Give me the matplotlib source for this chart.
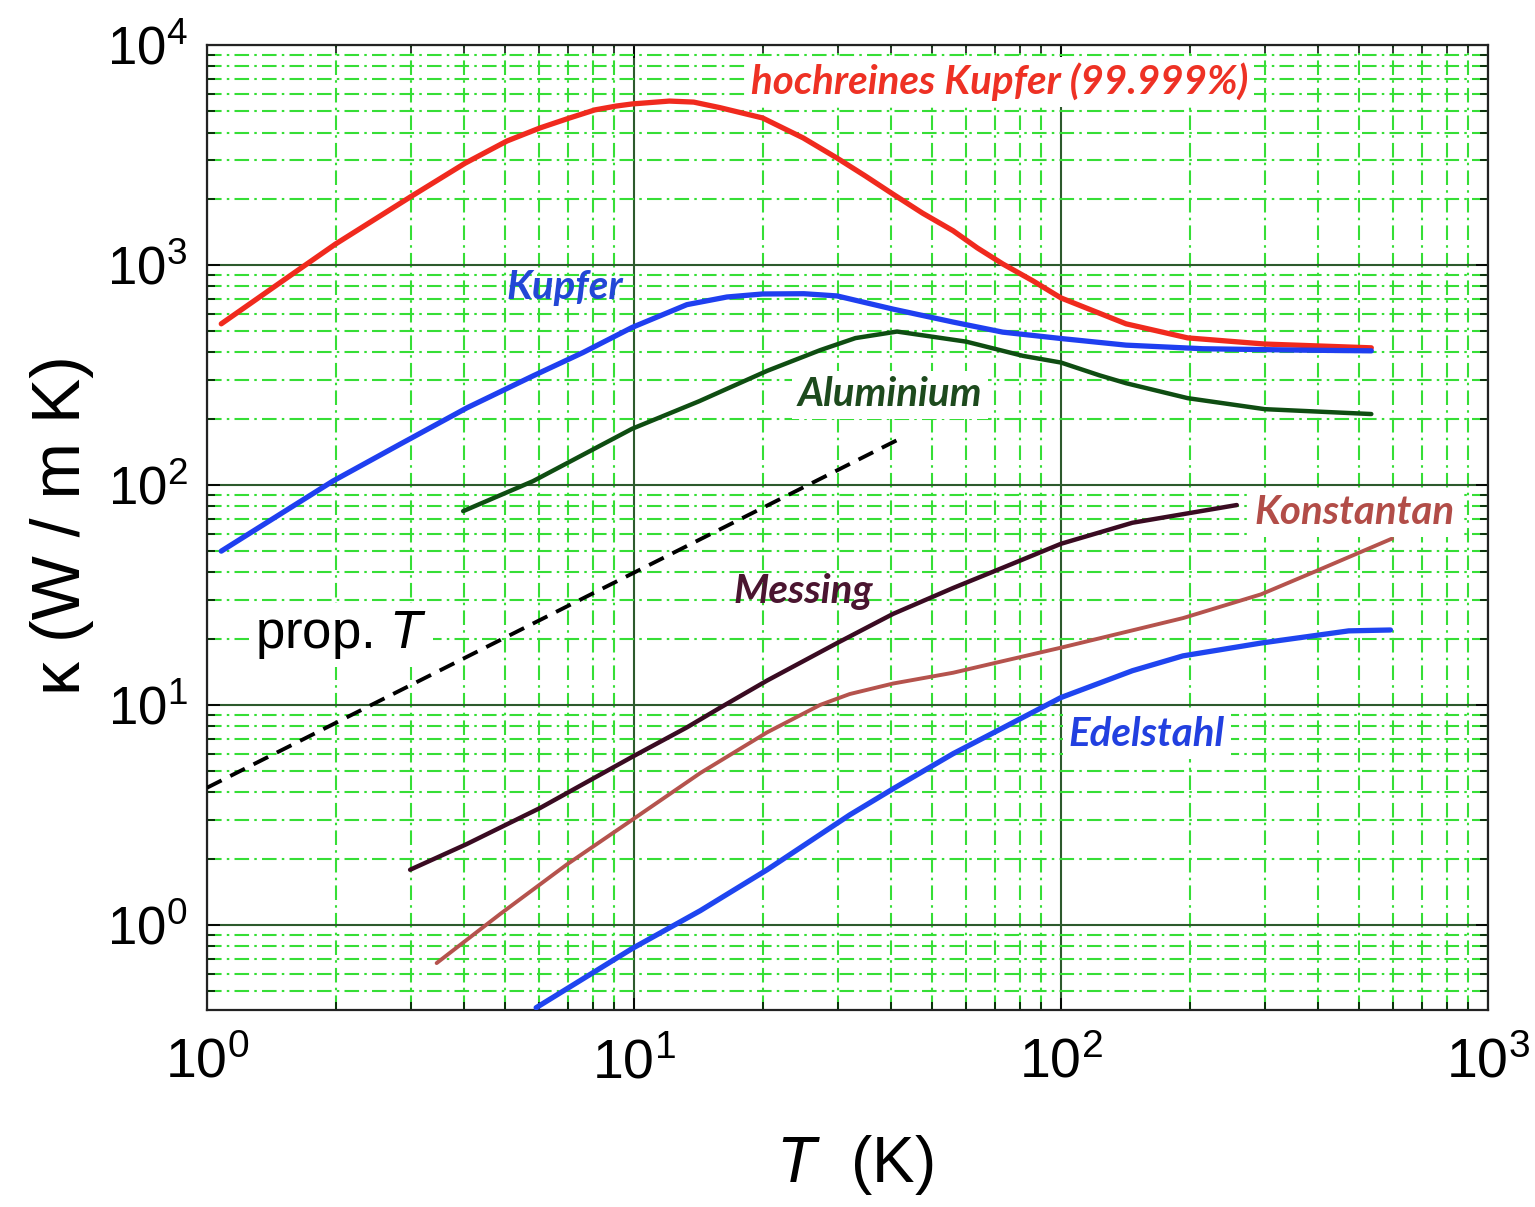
import matplotlib
matplotlib.use('Agg')
import matplotlib.pyplot as plt
from matplotlib.ticker import LogLocator, FixedLocator, FixedFormatter, NullFormatter

# ---------------- data ----------------
T_hr = [1.08, 1.65, 2.0, 3.02, 4.02, 5.04, 6.03, 7.07, 8.1, 9.1, 9.9, 12.1, 13.8, 15.9, 20.0, 24.9,
        29.9, 34.8, 40.4, 47.4, 55.9, 63.7, 73.1, 86.1, 100, 142, 198, 300, 533]
k_hr = [540, 960, 1245, 2060, 2900, 3660, 4200, 4660, 5070, 5280, 5395, 5560, 5500, 5190, 4660, 3780,
        3060, 2540, 2100, 1720, 1430, 1195, 1010, 845, 708, 540, 466, 437, 420]

T_cu = [1.08, 1.97, 2.83, 4.06, 5.8, 7.6, 9.9, 13.3, 16.5, 20.0, 25.0, 29.9, 40.4, 55.9, 73, 100, 142, 215, 362, 533]
k_cu = [50, 104, 153, 224, 313, 400, 520, 660, 715, 738, 740, 723, 630, 550, 495, 463, 432, 416, 410, 407]

T_al = [3.98, 5.8, 9.9, 14.2, 20.5, 27.3, 33.0, 41.3, 60, 81.5, 100, 123, 142, 198, 300, 533]
k_al = [76, 104, 180, 240, 330, 410, 465, 498, 448, 386, 360, 315, 290, 248, 221, 210]

T_ms = [2.99, 4.06, 6.03, 9.9, 13.3, 15.9, 20.5, 29.9, 40.4, 55.9, 73, 100, 147, 258]
k_ms = [1.78, 2.33, 3.4, 5.8, 7.9, 9.7, 12.9, 19.1, 25.9, 34, 42, 54, 67.3, 81]

T_ko = [3.45, 4.86, 6.96, 9.9, 14.3, 20.5, 27.3, 32, 40.4, 55.9, 73, 100, 193, 294, 396, 596]
k_ko = [0.67, 1.12, 1.88, 3.0, 4.9, 7.5, 10.0, 11.2, 12.5, 14.0, 15.8, 18.2, 24.8, 31.8, 40.6, 57]

T_es = [5.9, 9.9, 14.3, 20.5, 32, 40.4, 55.9, 73, 100, 147, 193, 294, 472, 591]
k_es = [0.42, 0.78, 1.16, 1.78, 3.16, 4.15, 6.0, 7.85, 10.8, 14.3, 16.7, 19.1, 21.7, 21.9]

T_prop = [1.0, 41.9]
k_prop = [4.2, 162]

x_ticks = [1, 10, 100, 1000]
x_ticklabels = [r'$\mathregular{10^{0}}$', r'$\mathregular{10^{1}}$', r'$\mathregular{10^{2}}$', r'$\mathregular{10^{3}}$']
y_ticks = [1, 10, 100, 1000, 10000]
y_ticklabels = [r'$\mathregular{10^{0}}$', r'$\mathregular{10^{1}}$', r'$\mathregular{10^{2}}$', r'$\mathregular{10^{3}}$', r'$\mathregular{10^{4}}$']

# ---------------- style ----------------
plt.rcParams['font.family'] = ['Liberation Sans', 'DejaVu Sans']
plt.rcParams['mathtext.fontset'] = 'custom'
plt.rcParams['mathtext.rm'] = 'Liberation Sans'
plt.rcParams['mathtext.it'] = 'Liberation Sans:italic'

W, H = 1535, 1207
fig = plt.figure(figsize=(W / 100, H / 100), dpi=100)
L, R, TOP, BOT = 207, 1488, 45, 1010
ax = fig.add_axes([L / W, 1 - BOT / H, (R - L) / W, (BOT - TOP) / H])
ax.set_xscale('log')
ax.set_yscale('log')
ax.set_xlim(1, 1000)
ax.set_ylim(0.41, 1e4)

ax.xaxis.set_major_locator(FixedLocator(x_ticks))
ax.xaxis.set_major_formatter(FixedFormatter(x_ticklabels))
ax.yaxis.set_major_locator(FixedLocator(y_ticks))
ax.yaxis.set_major_formatter(FixedFormatter(y_ticklabels))
ax.xaxis.set_minor_locator(LogLocator(base=10, subs=range(2, 10), numticks=30))
ax.yaxis.set_minor_locator(LogLocator(base=10, subs=range(2, 10), numticks=30))
ax.xaxis.set_minor_formatter(NullFormatter())
ax.yaxis.set_minor_formatter(NullFormatter())

ax.set_axisbelow(True)
ax.grid(which='minor', color='#36de36', lw=1.5, linestyle=(0, (7, 2.5, 1.2, 2.5)))
ax.grid(which='major', color='#2d5a2d', lw=1.5, linestyle='-')

ax.tick_params(which='both', direction='in', top=True, right=True, colors='black')
ax.tick_params(which='major', length=9, width=1.3)
ax.tick_params(which='minor', length=6, width=1.1)
ax.tick_params(axis='x', which='major', pad=20, labelsize=40)
ax.tick_params(axis='y', which='major', pad=14, labelsize=38)
for sp in ax.spines.values():
    sp.set_linewidth(1.6)
    sp.set_color('#222222')

# ---------------- curves ----------------
kw = dict(zorder=3, solid_capstyle='round', solid_joinstyle='round')
ax.plot(T_hr, k_hr, color='#f02a1e', lw=3.8, **kw)
ax.plot(T_cu, k_cu, color='#1f3ff0', lw=3.8, **kw)
ax.plot(T_al, k_al, color='#0f4d12', lw=3.2, **kw)
ax.plot(T_ms, k_ms, color='#3a0b22', lw=3.2, **kw)
ax.plot(T_ko, k_ko, color='#b5534d', lw=2.8, **kw)
ax.plot(T_es, k_es, color='#1f45f0', lw=3.8, **kw)
ax.plot(T_prop, k_prop, color='black', lw=2.8, ls=(0, (4.2, 2.5)), zorder=3)

# ---------------- labels ----------------
def lab(px, py, s, color, box=True, **kw):
    opts = dict(transform=ax.transAxes, ha='center', va='center', color=color,
                fontfamily=['Lato', 'DejaVu Sans'], fontweight='bold', fontstyle='italic',
                fontsize=29, zorder=6)
    opts.update(kw)
    if box:
        opts['bbox'] = dict(facecolor='white', edgecolor='none', pad=4)
    ax.text((px - L) / (R - L), (BOT - py) / (BOT - TOP), s, **opts)

lab(1000, 82, 'hochreines Kupfer (99.999%)', '#ee3124')
lab(565, 287, 'Kupfer', '#2347d6', box=False)
lab(890, 395, 'Aluminium', '#1d4a1d')
lab(1355, 513, 'Konstantan', '#b24d48')
lab(803, 592, 'Messing', '#4a1530', box=False)
lab(1147, 735, 'Edelstahl', '#2240e0')
lab(341, 635, r'prop. $\mathit{T}$', 'black', fontfamily=['Liberation Sans'],
    fontweight='normal', fontstyle='normal', fontsize=38)

fig.text(62 / W, 1 - 525 / H, 'κ (W / m K)', rotation=90, ha='center', va='center',
         fontsize=49, color='black')
fig.text(855 / W, 1 - 1165 / H, r'$\mathit{T}$  (K)', ha='center', va='center',
         fontsize=46, color='black')

fig.savefig('out.png', dpi=100)
